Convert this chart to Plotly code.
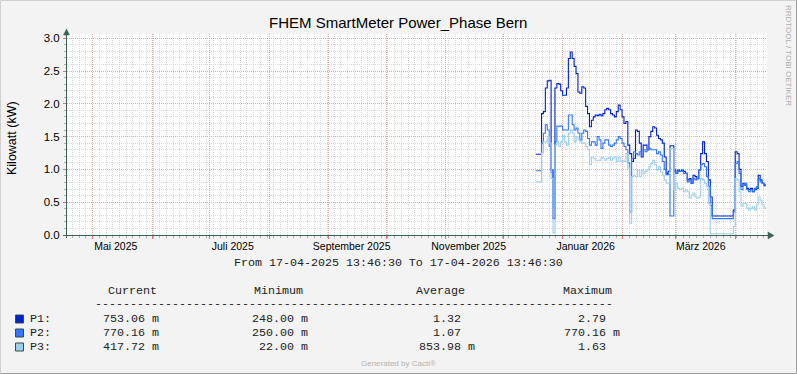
import pandas as pd
import plotly.graph_objects as go

# ---------------- data ----------------
TITLE = "FHEM SmartMeter Power_Phase Bern"
Y_TITLE = "Kilowatt (kW)"
RANGE_START = "2025-04-17 13:46:30"
RANGE_END = "2026-04-17 13:46:30"
PERIOD_TEXT = "From 17-04-2025 13:46:30 To 17-04-2026 13:46:30"

dates = pd.date_range("2025-12-18", "2026-04-17", freq="D")

p1 = [1.23, 1.23, 1.23, 1.85, 1.88, 2.24, 2.35, 2.36, 0.99, 0.25,
      2.24, 2.31, 2.30, 2.20, 2.13, 2.13, 2.24, 2.69, 2.79, 2.69,
      2.57, 2.46, 2.18, 2.16, 2.26, 2.24, 1.96, 1.85, 1.65, 1.75,
      1.80, 1.83, 1.82, 1.84, 1.82, 1.85, 1.91, 1.93, 1.91, 1.85,
      1.83, 1.80, 1.88, 1.98, 1.91, 1.80, 1.70, 1.73, 1.37, 1.24,
      1.12, 1.17, 1.60, 1.58, 1.40, 1.19, 1.37, 1.37, 1.30, 1.50,
      1.58, 1.65, 1.63, 1.52, 1.47, 1.45, 1.40, 1.19, 0.94, 0.97,
      1.36, 1.36, 0.99, 0.94, 0.99, 0.97, 0.99, 0.97, 0.94, 0.84,
      0.86, 0.79, 0.91, 0.89, 0.86, 0.99, 1.24, 1.42, 1.24, 1.12,
      0.84, 0.58, 0.29, 0.29, 0.29, 0.29, 0.29, 0.29, 0.29, 0.29,
      0.29, 0.29, 0.29, 0.38, 1.27, 1.24, 1.00, 0.74, 0.79, 0.76,
      0.71, 0.69, 0.71, 0.66, 0.69, 0.71, 0.91, 0.84, 0.79, 0.75,
      0.75]

p2 = [0.98, 0.98, 0.98, 1.40, 1.55, 1.68, 1.60, 1.35, 0.95, 0.41,
      1.42, 1.66, 1.66, 1.66, 1.60, 1.60, 1.60, 1.83, 1.83, 1.68,
      1.60, 1.63, 1.55, 1.45, 1.55, 1.60, 1.58, 1.47, 1.37, 1.42,
      1.42, 1.37, 1.50, 1.45, 1.32, 1.40, 1.45, 1.45, 1.37, 1.35,
      1.37, 1.40, 1.45, 1.50, 1.47, 1.40, 1.35, 1.30, 1.10, 0.35,
      1.17, 1.27, 1.24, 1.22, 1.27, 1.22, 1.30, 1.27, 1.30, 1.32,
      1.30, 1.30, 1.30, 1.24, 1.27, 1.22, 1.12, 1.00, 0.92, 0.92,
      0.29, 0.29, 0.97, 0.94, 0.97, 0.97, 0.97, 0.94, 0.94, 0.81,
      0.84, 0.79, 0.86, 0.84, 0.86, 0.99, 1.07, 1.09, 1.04, 0.89,
      0.74, 0.45, 0.25, 0.25, 0.25, 0.25, 0.25, 0.25, 0.25, 0.25,
      0.25, 0.25, 0.25, 0.35, 1.09, 1.12, 0.94, 0.69, 0.76, 0.79,
      0.69, 0.66, 0.69, 0.66, 0.71, 0.74, 0.86, 0.81, 0.79, 0.77,
      0.77]

p3 = [0.81, 0.81, 0.81, 1.25, 1.42, 1.42, 1.50, 1.40, 0.86, 0.03,
      1.37, 1.42, 1.35, 1.42, 1.52, 1.42, 1.37, 1.55, 1.60, 1.55,
      1.42, 1.50, 1.45, 1.42, 1.40, 1.40, 1.35, 1.30, 1.07, 1.19,
      1.17, 1.14, 1.14, 1.14, 1.19, 1.17, 1.14, 1.17, 1.19, 1.14,
      1.17, 1.19, 1.12, 1.19, 1.12, 1.14, 1.12, 1.24, 1.02, 0.18,
      0.89, 0.91, 0.89, 0.99, 0.89, 0.99, 0.94, 0.97, 0.99, 1.04,
      1.09, 1.14, 1.07, 0.99, 1.04, 0.96, 0.91, 0.84, 0.79, 0.79,
      1.32, 1.32, 0.69, 0.79, 0.71, 0.69, 0.71, 0.66, 0.69, 0.66,
      0.56, 0.61, 0.64, 0.58, 0.56, 0.58, 0.86, 0.84, 0.79, 0.74,
      0.48, 0.02, 0.02, 0.02, 0.02, 0.02, 0.02, 0.02, 0.02, 0.02,
      0.02, 0.02, 0.02, 0.13, 0.86, 0.84, 0.66, 0.44, 0.48, 0.48,
      0.41, 0.38, 0.41, 0.43, 0.38, 0.46, 0.58, 0.53, 0.46, 0.41,
      0.42]

series_names = ["P1", "P2", "P3"]
series_colors = ["#0022CC", "#3377FF", "#9FCFEE"]

month_labels = ["Mai 2025", "Juli 2025", "September 2025",
                "November 2025", "Januar 2026", "März 2026"]
month_label_dates = ["2025-05-13", "2025-07-13", "2025-09-13",
                     "2025-11-13", "2026-01-13", "2026-03-14"]

y_ticks = [0.0, 0.5, 1.0, 1.5, 2.0, 2.5, 3.0]

stat_headers = ["Current", "Minimum", "Average", "Maximum"]
stat_current = ["753.06 m", "770.16 m", "417.72 m"]
stat_minimum = ["248.00 m", "250.00 m", "22.00 m"]
stat_average = ["1.32", "1.07", "853.98 m"]
stat_maximum = ["2.79", "770.16 m", "1.63"]

# ---------------- layout helpers ----------------
W, H = 797, 374
L, R, T, B = 67, 767, 34, 235


def fx(px):
    return (px - L) / (R - L)


def fy(py):
    return (B - py) / (B - T)


SANS = "Liberation Sans, Arial, sans-serif"
MONO = "Liberation Mono, Courier New, monospace"
AXIS_COL = "#3A6354"
MGRID = "#EBA8A8"
GRID = "#D9D9D9"

fig = go.Figure()
for name, vals, col in zip(series_names, [p1, p2, p3], series_colors):
    fig.add_trace(go.Scatter(x=dates, y=vals, mode="lines", name=name,
                             line=dict(color=col, width=1.1, shape="hv"),
                             showlegend=False, hoverinfo="skip"))
# empty trace so the label axis is drawn
fig.add_trace(go.Scatter(x=[], y=[], xaxis="x2", showlegend=False,
                         hoverinfo="skip"))

fig.update_layout(
    template="none",
    width=W, height=H,
    margin=dict(l=L, r=W - R, t=T, b=H - B, pad=0, autoexpand=False),
    paper_bgcolor="#F3F3F3", plot_bgcolor="#FFFFFF",
    xaxis=dict(type="date", range=[RANGE_START, RANGE_END],
               automargin=False,
               showgrid=True, gridcolor=MGRID, griddash="1px,1px",
               gridwidth=1, dtick="M1", tick0="2025-05-01",
               showticklabels=False, ticks="outside", ticklen=3,
               tickcolor="#E07070", showline=False, zeroline=False,
               minor=dict(dtick=3.5 * 86400000, tick0="2025-05-04 10:00",
                          showgrid=True, gridcolor=GRID,
                          griddash="1px,1px", ticks="outside",
                          ticklen=2, tickcolor="#B0B0B0")),
    xaxis2=dict(type="date", range=[RANGE_START, RANGE_END],
                automargin=False,
                overlaying="x", anchor="y", side="bottom",
                tickmode="array", tickvals=month_label_dates,
                ticktext=month_labels, showgrid=False, ticks="",
                ticklabelstandoff=3, zeroline=False, showline=False,
                tickfont=dict(family=SANS, size=10.5, color="#000000")),
    yaxis=dict(range=[0, (B - T) / 65.6], tickmode="array",
               automargin=False,
               tickvals=y_ticks, ticktext=[f"{v:.1f}" for v in y_ticks],
               showgrid=True, gridcolor=MGRID, griddash="1px,1px",
               zeroline=False, showline=False, ticks="outside",
               ticklen=3, tickcolor="#E07070", ticklabelstandoff=1,
               tickfont=dict(family=SANS, size=11.5, color="#000000"),
               minor=dict(dtick=0.1, tick0=0, showgrid=True,
                          gridcolor=GRID, griddash="1px,1px",
                          ticks="outside", ticklen=2,
                          tickcolor="#B0B0B0")),
)

shapes = []
# outer 3D frame
shapes.append(dict(type="line", xref="paper", yref="paper",
                   x0=fx(0.5), x1=fx(796.5), y0=fy(0.5), y1=fy(0.5),
                   line=dict(color="#CFCFCF", width=1)))
shapes.append(dict(type="line", xref="paper", yref="paper",
                   x0=fx(0.5), x1=fx(0.5), y0=fy(0.5), y1=fy(373.5),
                   line=dict(color="#CFCFCF", width=1)))
shapes.append(dict(type="line", xref="paper", yref="paper",
                   x0=fx(796.5), x1=fx(796.5), y0=fy(0.5), y1=fy(373.5),
                   line=dict(color="#9E9E9E", width=1)))
shapes.append(dict(type="line", xref="paper", yref="paper",
                   x0=fx(0.5), x1=fx(796.5), y0=fy(373.5), y1=fy(373.5),
                   line=dict(color="#9E9E9E", width=1)))
# axes with arrows
shapes.append(dict(type="line", xref="paper", yref="paper",
                   x0=fx(63), x1=fx(769), y0=fy(235.5), y1=fy(235.5),
                   line=dict(color=AXIS_COL, width=1)))
shapes.append(dict(type="line", xref="paper", yref="paper",
                   x0=fx(66.5), x1=fx(66.5), y0=fy(238), y1=fy(32),
                   line=dict(color=AXIS_COL, width=1)))


def tri(points):
    d = "M " + " L ".join(f"{fx(a)},{fy(b)}" for a, b in points) + " Z"
    return dict(type="path", xref="paper", yref="paper", path=d,
                fillcolor=AXIS_COL, line=dict(color=AXIS_COL, width=0.5))


shapes.append(tri([(768, 232), (774, 235.5), (768, 239)]))
shapes.append(tri([(63.5, 35), (66.5, 29), (69.5, 35)]))

# legend swatches
for i, col in enumerate(series_colors):
    yc = 319 + 14 * i
    shapes.append(dict(type="rect", xref="paper", yref="paper",
                       x0=fx(15.5), x1=fx(23.5), y0=fy(yc - 4), y1=fy(yc + 4),
                       fillcolor=col, line=dict(color="#2F4F4F", width=1)))

fig.update_layout(shapes=shapes)

ann = []


def text(px, py, s, size, family=SANS, color="#000000", xanchor="left",
         angle=0):
    ann.append(dict(xref="paper", yref="paper", x=fx(px), y=fy(py),
                    text=s, showarrow=False, xanchor=xanchor,
                    yanchor="middle", textangle=angle, borderpad=0,
                    font=dict(family=family, size=size, color=color)))


text(398, 22, TITLE, 15, xanchor="center")
text(12, 138, Y_TITLE, 12.5, xanchor="center", angle=-90)
text(788, 55, "RRDTOOL / TOBI OETIKER", 8, color="#ADADAD",
     xanchor="center", angle=90)
text(398, 263, PERIOD_TEXT, 11.67, family=MONO, xanchor="center",
     color="#222222")

# statistics table
header_x = [106.7, 253, 415, 562]
for hx, h in zip(header_x, stat_headers):
    text(hx, 291, h, 11.67, family=MONO, color="#222222")
text(94, 304, "-" * 74, 11.67, family=MONO, color="#222222")

col_start = [87.7, 236.7, 404, 549]
columns = [stat_current, stat_minimum, stat_average, stat_maximum]
for i, name in enumerate(series_names):
    yc = 319 + 14 * i
    text(29.3, yc, name + ":", 11.67, family=MONO, color="#222222")
    for cx, col in zip(col_start, columns):
        parts = col[i].split(" ")
        num = parts[0]
        unit = parts[1] if len(parts) > 1 else ""
        s = num.rjust(8, "\u00a0") + ("\u00a0" + unit if unit else "")
        text(cx, yc, s, 11.67, family=MONO, color="#222222")

text(398, 363, "Generated by Cacti®", 8, color="#B4B4B4", xanchor="center")

fig.update_layout(annotations=ann)
fig.write_html(
    "out.html",
    config={"displayModeBar": False, "staticPlot": True},
    post_script="document.body.style.margin='0';"
                "document.body.style.overflow='hidden';",
)
